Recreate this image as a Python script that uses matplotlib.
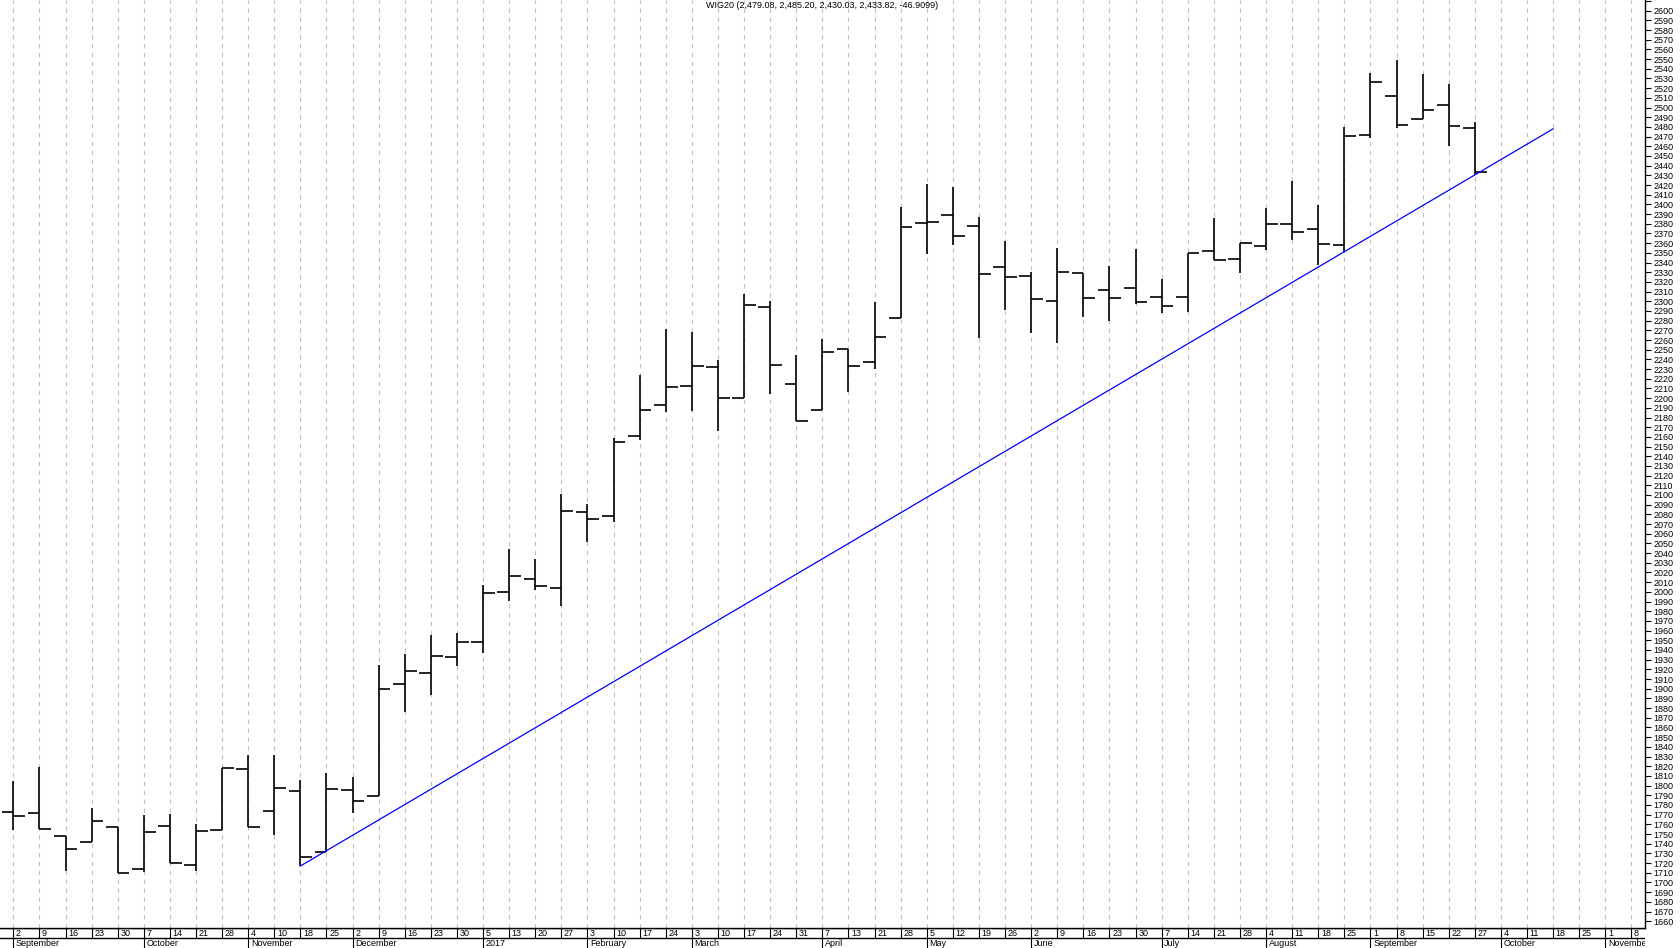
import matplotlib
matplotlib.use("Agg")
import matplotlib.pyplot as plt
import pandas as pd

plt.rcParams['font.family'] = ['Liberation Sans', 'DejaVu Sans']

# weekly bars (date of last session in the week)
dates = ["2016-09-02", "2016-09-09", "2016-09-16", "2016-09-23", "2016-09-30",
         "2016-10-07", "2016-10-14", "2016-10-21", "2016-10-28",
         "2016-11-04", "2016-11-10", "2016-11-18", "2016-11-25",
         "2016-12-02", "2016-12-09", "2016-12-16", "2016-12-23", "2016-12-30",
         "2017-01-05", "2017-01-13", "2017-01-20", "2017-01-27",
         "2017-02-03", "2017-02-10", "2017-02-17", "2017-02-24",
         "2017-03-03", "2017-03-10", "2017-03-17", "2017-03-24", "2017-03-31",
         "2017-04-07", "2017-04-13", "2017-04-21", "2017-04-28",
         "2017-05-05", "2017-05-12", "2017-05-19", "2017-05-26",
         "2017-06-02", "2017-06-09", "2017-06-16", "2017-06-23", "2017-06-30",
         "2017-07-07", "2017-07-14", "2017-07-21", "2017-07-28",
         "2017-08-04", "2017-08-11", "2017-08-18", "2017-08-25",
         "2017-09-01", "2017-09-08", "2017-09-15", "2017-09-22", "2017-09-27"]
# empty weeks to the right of the last bar
future_dates = ["2017-10-04", "2017-10-11", "2017-10-18", "2017-10-25",
                "2017-11-01", "2017-11-08"]

opens = [1772.8, 1771.7, 1747.6, 1741.5, 1757.0, 1713.9, 1758.0, 1717.7, 1753.8,
         1816.8, 1773.5, 1794.1, 1731.1, 1795.1, 1789.0, 1904.6, 1915.9, 1932.5,
         1948.0, 1999.5, 2013.0, 2003.7, 2082.1, 2078.0, 2161.0, 2192.6, 2212.2,
         2231.8, 2200.2, 2293.8, 2214.3, 2187.4, 2250.4, 2237.3, 2282.5, 2380.9,
         2389.1, 2377.4, 2335.1, 2325.8, 2300.0, 2328.9, 2311.4, 2313.8, 2304.5,
         2304.2, 2351.6, 2343.4, 2356.8, 2379.9, 2374.4, 2357.8, 2472.1, 2511.6,
         2487.9, 2502.4, 2479.08]
highs = [1805.1, 1818.9, 1748.0, 1776.6, 1757.5, 1769.3, 1770.7, 1760.4, 1817.9,
         1831.6, 1831.6, 1805.5, 1812.7, 1808.6, 1924.5, 1935.9, 1955.5, 1957.6,
         2007.1, 2044.3, 2033.9, 2101.1, 2090.7, 2158.5, 2223.9, 2271.0, 2268.3,
         2239.4, 2307.5, 2300.3, 2244.6, 2261.1, 2250.4, 2299.3, 2397.4, 2421.1,
         2418.4, 2387.1, 2362.3, 2329.9, 2355.1, 2328.9, 2336.5, 2354.0, 2323.1,
         2349.6, 2385.7, 2360.2, 2396.0, 2424.2, 2399.5, 2480.0, 2535.7, 2548.8,
         2535.0, 2524.4, 2485.20]
lows = [1754.2, 1754.9, 1712.2, 1741.5, 1709.5, 1711.2, 1719.8, 1712.2, 1753.8,
        1757.6, 1749.0, 1717.0, 1731.1, 1771.4, 1789.0, 1876.0, 1893.6, 1923.5,
        1937.3, 1990.6, 2002.0, 1985.8, 2051.9, 2072.5, 2156.8, 2186.1, 2187.1,
        2166.4, 2200.2, 2204.6, 2176.1, 2187.4, 2206.7, 2230.4, 2282.5, 2348.9,
        2358.5, 2262.2, 2291.4, 2267.7, 2257.0, 2284.2, 2280.1, 2297.2, 2288.3,
        2289.4, 2342.3, 2328.9, 2352.7, 2363.7, 2337.5, 2351.0, 2469.0, 2479.0,
        2487.9, 2460.0, 2430.03]
closes = [1768.3, 1754.9, 1734.6, 1763.5, 1709.5, 1751.8, 1719.8, 1753.2, 1817.9,
          1757.6, 1797.2, 1726.0, 1796.2, 1783.8, 1899.4, 1918.0, 1933.5, 1948.0,
          1998.5, 2016.1, 2005.7, 2083.2, 2075.3, 2154.4, 2187.4, 2211.2, 2232.9,
          2200.2, 2296.2, 2233.9, 2176.1, 2247.7, 2232.9, 2262.8, 2376.4, 2381.9,
          2367.1, 2327.9, 2324.8, 2302.1, 2329.9, 2303.1, 2303.1, 2299.0, 2295.2,
          2349.6, 2342.3, 2360.2, 2379.9, 2371.3, 2359.2, 2470.4, 2526.1, 2481.7,
          2497.2, 2480.73, 2433.82]

# support trend line
trend_dates = ["2016-11-18", "2017-10-18"]
trend_values = [1717.0, 2478.0]

title = "WIG20 (2,479.08, 2,485.20, 2,430.03, 2,433.82, -46.9099)"

all_dates = pd.to_datetime(dates + future_dates)
xs = list(range(len(dates)))
xall = list(range(len(all_dates)))
date_pos = {d: i for i, d in enumerate(dates + future_dates)}

W, H = 1680, 948
fig = plt.figure(figsize=(W / 100, H / 100), dpi=100)
plot_right = 1645 / W
strip_h = 20 / H
ax = fig.add_axes([0, strip_h, plot_right, 1 - strip_h])

xlim = (-0.51, 62.52)

# dashed weekly grid
for x in xall:
    ax.axvline(x, color="#c0c0c0", lw=0.8, ls=(0, (4, 4)), zorder=0)

# OHLC bars
tick = 0.45
ax.vlines(xs, lows, highs, color="black", lw=1.2)
ax.hlines(opens, [x - tick for x in xs], xs, color="black", lw=1.2)
ax.hlines(closes, xs, [x + tick for x in xs], color="black", lw=1.2)

# trend line
ax.plot([date_pos[d] for d in trend_dates], trend_values, color="#0000ff", lw=0.9)

ax.set_xlim(*xlim)
ax.set_ylim(1653, 2611)
ax.set_xticks([])
ax.yaxis.tick_right()
ticks = list(range(1660, 2611, 10))
ax.set_yticks(ticks)
ax.set_yticklabels([str(t) if t <= 2600 else "" for t in ticks])
ax.tick_params(axis="y", direction="out", length=4, width=0.8, pad=2,
               labelsize=6.5, colors="black")
for s in ["left", "top"]:
    ax.spines[s].set_visible(False)
ax.spines["right"].set_linewidth(1.0)
ax.spines["bottom"].set_linewidth(1.0)

# date strip below the chart
sx = fig.add_axes([0, 0, plot_right, strip_h])
sx.set_xlim(*xlim)
sx.set_ylim(0, 2)
sx.axis("off")
sx.axhline(2, color="black", lw=1.0)
sx.axhline(1, color="black", lw=1.0)
prev_month = None
for i, d in enumerate(all_dates):
    sx.plot([i, i], [1, 2], color="black", lw=0.8)
    sx.text(i + 0.1, 1.45, str(d.day), ha="left", va="center", fontsize=6.5,
            clip_on=True)
    if d.month != prev_month:
        name = str(d.year) if d.month == 1 else d.strftime("%B")
        sx.plot([i, i], [0, 1], color="black", lw=0.8)
        sx.text(i + 0.1, 0.45, name, ha="left", va="center", fontsize=6.5,
                clip_on=True)
        prev_month = d.month

fig.text(822 / W, 1 - 6 / H, title, ha="center", va="center", fontsize=6.5)

fig.savefig("out.png", dpi=100)
